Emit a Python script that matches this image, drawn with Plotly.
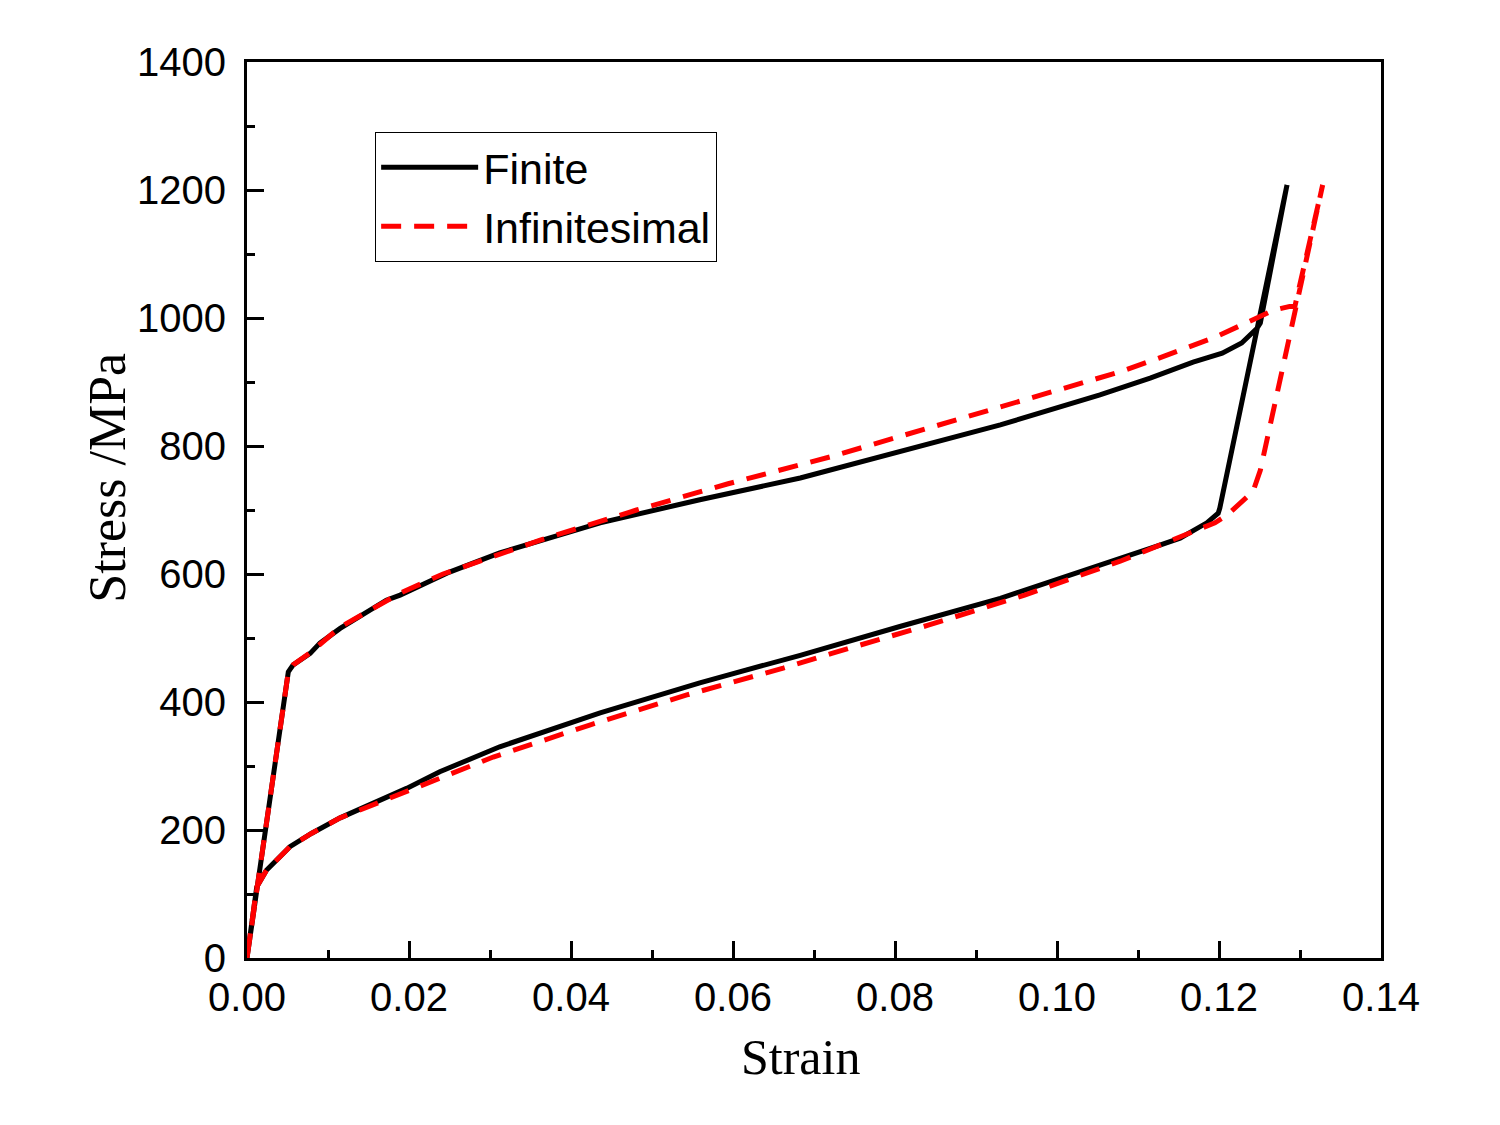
import plotly.graph_objects as go

# Finite model: loading then unloading loop
finite_strain = [0.0, 0.0051, 0.0057, 0.0078, 0.009, 0.0115, 0.0172, 0.0189, 0.025, 0.0312, 0.0436,
                 0.0559, 0.0683, 0.0806, 0.093, 0.1053, 0.1115, 0.1168, 0.1204, 0.1228, 0.1247,
                 0.1251, 0.1284,
                 0.1201, 0.1199, 0.1185, 0.1152, 0.1127, 0.1053, 0.093, 0.0806, 0.0683, 0.0559,
                 0.0436, 0.0312, 0.0238, 0.0197, 0.0156, 0.0115, 0.008, 0.0053, 0.0024, 0.0012, 0.0]
finite_stress = [0, 447, 458, 476, 492, 515, 559, 567, 603, 633, 680,
                 716, 750, 791, 833, 880, 906, 931, 945, 961, 984,
                 992, 1208,
                 703, 695, 680, 656, 645, 614, 562, 518, 473, 430,
                 383, 330, 291, 265, 242, 219, 195, 174, 137, 111, 0]

# Infinitesimal model
inf_strain = [0.0, 0.0051, 0.0057, 0.0078, 0.0115, 0.0189, 0.0242, 0.0362, 0.0481, 0.0594,
              0.072, 0.084, 0.0958, 0.1078, 0.1125, 0.1197, 0.1267, 0.1294, 0.1328,
              0.1251, 0.1242,
              0.121, 0.1195, 0.1137, 0.1078, 0.096, 0.0841, 0.0722, 0.0662, 0.0543, 0.0423,
              0.0304, 0.0193, 0.0115, 0.008, 0.0053, 0.0024, 0.0012, 0.0]
inf_stress = [0, 447, 458, 477, 517, 570, 600, 653, 700, 741,
              783, 828, 872, 916, 937, 971, 1012, 1020, 1208,
              762, 729,
              692, 680, 651, 620, 567, 520, 476, 453, 411, 364,
              314, 259, 219, 195, 174, 137, 111, 0]

x_tickvals = [0.0, 0.02, 0.04, 0.06, 0.08, 0.10, 0.12, 0.14]
y_tickvals = [0, 200, 400, 600, 800, 1000, 1200, 1400]

fig = go.Figure()
fig.add_trace(go.Scatter(x=finite_strain, y=finite_stress, mode="lines", name="Finite",
                         line=dict(color="black", width=5)))
fig.add_trace(go.Scatter(x=inf_strain, y=inf_stress, mode="lines", name="Infinitesimal",
                         line=dict(color="#ff0000", width=5, dash="20px,13px")))

axis_common = dict(showline=True, linecolor="black", linewidth=3, mirror=True,
                   ticks="inside", ticklen=17, tickwidth=3, tickcolor="black",
                   showgrid=False, zeroline=False,
                   tickfont=dict(family="Liberation Sans, Arial", size=40, color="black"))

fig.update_xaxes(range=[0, 0.14], tickvals=x_tickvals, tickformat=".2f",
                 minor=dict(ticks="inside", ticklen=8, tickwidth=3, dtick=0.01, tickcolor="black"),
                 ticklabelstandoff=2,
                 **axis_common)
fig.update_yaxes(range=[0, 1400], tickvals=y_tickvals,
                 minor=dict(ticks="inside", ticklen=8, tickwidth=3, dtick=100, tickcolor="black"),
                 ticklabelstandoff=10,
                 **axis_common)

fig.add_annotation(text="Strain", xref="paper", yref="paper", x=0.4877, y=-0.1105,
                   xanchor="center", yanchor="middle", showarrow=False,
                   font=dict(family="Liberation Serif, Times New Roman", size=50, color="black"))
fig.add_annotation(text="Stress /MPa", xref="paper", yref="paper", x=-0.1237, y=0.5357,
                   xanchor="center", yanchor="middle", showarrow=False, textangle=-90,
                   font=dict(family="Liberation Serif, Times New Roman", size=52, color="black"))

fig.update_layout(
    width=1500, height=1125,
    margin=dict(l=247, r=119, t=62, b=167),
    plot_bgcolor="white", paper_bgcolor="white",
    showlegend=True,
    legend=dict(x=0.113, y=0.922, xanchor="left", yanchor="top",
                bordercolor="black", borderwidth=1, bgcolor="white",
                font=dict(family="Liberation Sans, Arial", size=43, color="black"),
                itemwidth=97, tracegroupgap=0),
)

fig.write_html("out.html")
